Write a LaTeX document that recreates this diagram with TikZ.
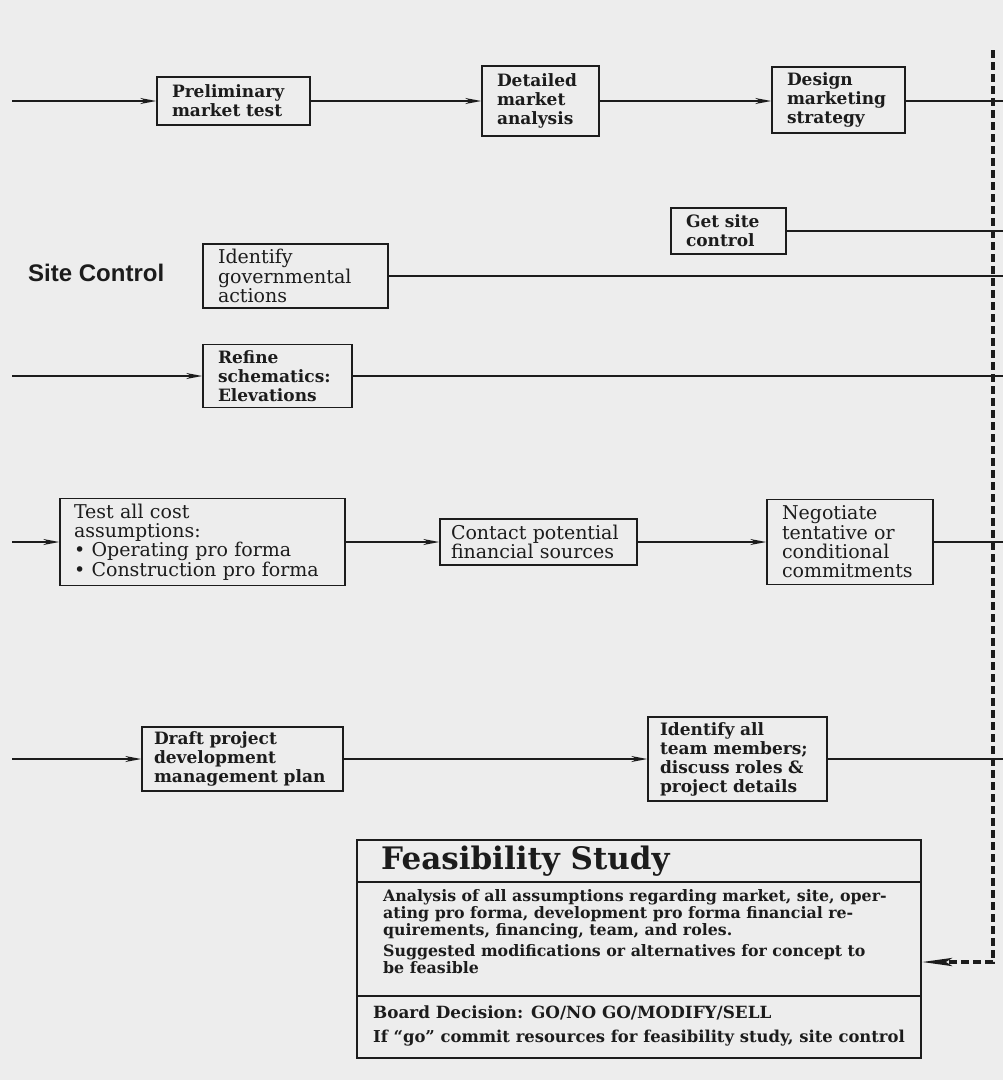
\documentclass[tikz,border=0pt]{standalone}
\usepackage{fontspec}
\setmainfont{DejaVu Serif}
\setsansfont{Liberation Sans}
\usetikzlibrary{arrows.meta}
\definecolor{paper}{RGB}{237,237,237}
\definecolor{ink}{RGB}{28,28,28}
\begin{document}
\begin{tikzpicture}[x=1pt,y=-1pt,
  every node/.style={text=ink},
  stepbox/.style={draw=ink, line width=1.6pt, align=left, inner xsep=15pt, inner ysep=0pt},
  bt/.style={font=\bfseries\fontsize{17}{19}\selectfont},
  rt/.style={font=\fontsize{19}{19.3}\selectfont},
  conn/.style={draw=ink, line width=1.5pt},
  arr/.style={conn, -{Stealth[length=16pt,width=6pt]}},
]
\fill[paper] (0,0) rectangle (1003,1080);
\useasboundingbox (0,0) rectangle (1003,1080);

% row 1
\node[stepbox,bt,minimum width=153pt,minimum height=48pt,text width=123pt] (prelim) at (233.5,101) {Preliminary\\market test};
\node[stepbox,bt,minimum width=117pt,minimum height=70pt,text width=87pt] (detailed) at (540.5,101) {Detailed\\market\\analysis};
\node[stepbox,bt,minimum width=133pt,minimum height=66pt,text width=103pt] (design) at (838.5,100) {Design\\marketing\\strategy};

% site control
\node[stepbox,bt,minimum width=115pt,minimum height=46pt,text width=85pt] (getsite) at (728.5,231) {Get site\\control};
\node[anchor=west, inner sep=0pt, font=\sffamily\bfseries\fontsize{24}{26}\selectfont] (sitectl) at (28,273) {Site Control};
\node[stepbox,rt,minimum width=185pt,minimum height=64pt,text width=155pt] (identgov) at (295.5,276) {Identify\\governmental\\actions};
\node[stepbox,bt,minimum width=149pt,minimum height=63pt,text width=119pt] (refine) at (277.5,376) {Refine\\schematics:\\Elevations};

% finance row
\node[stepbox,rt,inner xsep=14pt,minimum width=285pt,minimum height=87pt,text width=257pt] (test) at (202.5,542) {Test all cost\\assumptions:\\• Operating pro forma\\• Construction pro forma};
\node[stepbox,rt,inner xsep=11pt,minimum width=197pt,minimum height=46pt,text width=175pt] (contact) at (538.5,542) {Contact potential\\financial sources};
\node[stepbox,rt,minimum width=166pt,minimum height=85pt,text width=136pt] (negot) at (850,542) {Negotiate\\tentative or\\conditional\\commitments};

% team row
\node[stepbox,bt,inner xsep=12pt,minimum width=201pt,minimum height=64pt,text width=177pt] (draft) at (242.5,759) {Draft project\\development\\management plan};
\node[stepbox,bt,inner xsep=12pt,minimum width=179pt,minimum height=84pt,text width=155pt] (identall) at (737.5,759) {Identify all\\team members;\\discuss roles \&\\project details};

% feasibility study
\node[draw=ink, line width=1.6pt, minimum width=564pt, minimum height=218pt, inner sep=0pt] (feas) at (639,949) {};
\coordinate (s1) at (0,882);
\coordinate (s2) at (0,996);
\draw[ink, line width=1.6pt] (feas.west |- s1) -- (feas.east |- s1);
\draw[ink, line width=1.6pt] (feas.west |- s2) -- (feas.east |- s2);
\node[anchor=west, inner sep=0pt, font=\bfseries\fontsize{31}{32}\selectfont] (ftitle) at (381,861) {Feasibility Study};
\node[anchor=north west, align=left, inner sep=0pt, font=\bfseries\fontsize{15.8}{17}\selectfont] (fbody) at (383,889) {Analysis of all assumptions regarding market, site, oper-\\ating pro forma, development pro forma financial re-\\quirements, financing, team, and roles.};
\node[anchor=north west, align=left, inner sep=0pt, font=\bfseries\fontsize{15.8}{17}\selectfont] (fsugg) at (383,944) {Suggested modifications or alternatives for concept to\\be feasible};
\node[anchor=west, inner sep=0pt, font=\bfseries\fontsize{16.8}{18}\selectfont] (fboard) at (373,1013) {Board Decision: GO/NO GO/MODIFY/SELL};
\node[anchor=west, inner sep=0pt, font=\bfseries\fontsize{16.4}{17}\selectfont] (fgo) at (373,1038) {If “go” commit resources for feasibility study, site control};

% connectors
\coordinate (R) at (1003,0);
\coordinate (L1) at (12,101);
\coordinate (L3) at (12,376);
\coordinate (L4) at (12,542);
\coordinate (L5) at (12,759);
\draw[arr] (L1) -- (prelim);
\draw[arr] (prelim) -- (prelim -| detailed.west);
\draw[arr] (detailed.east |- prelim) -- (prelim -| design.west);
\draw[conn] (design.east |- prelim) -- (prelim -| R);
\draw[conn] (getsite) -- (getsite -| R);
\draw[conn] (identgov) -- (identgov -| R);
\draw[arr] (L3) -- (refine);
\draw[conn] (refine) -- (refine -| R);
\draw[arr] (L4) -- (test);
\draw[arr] (test) -- (contact);
\draw[arr] (contact) -- (negot);
\draw[conn] (negot) -- (negot -| R);
\draw[arr] (L5) -- (draft);
\draw[arr] (draft) -- (identall);
\draw[conn] (identall) -- (identall -| R);

% dashed return line
\coordinate (D0) at (993,50);
\coordinate (D1) at (993,962);
\draw[ink, line width=3.8pt, dash pattern=on 8pt off 4pt, -{Stealth[length=30pt,width=8pt,inset=6pt]}] (D0) -- (D1) -- (D1 -| feas.east);
\end{tikzpicture}
\end{document}
